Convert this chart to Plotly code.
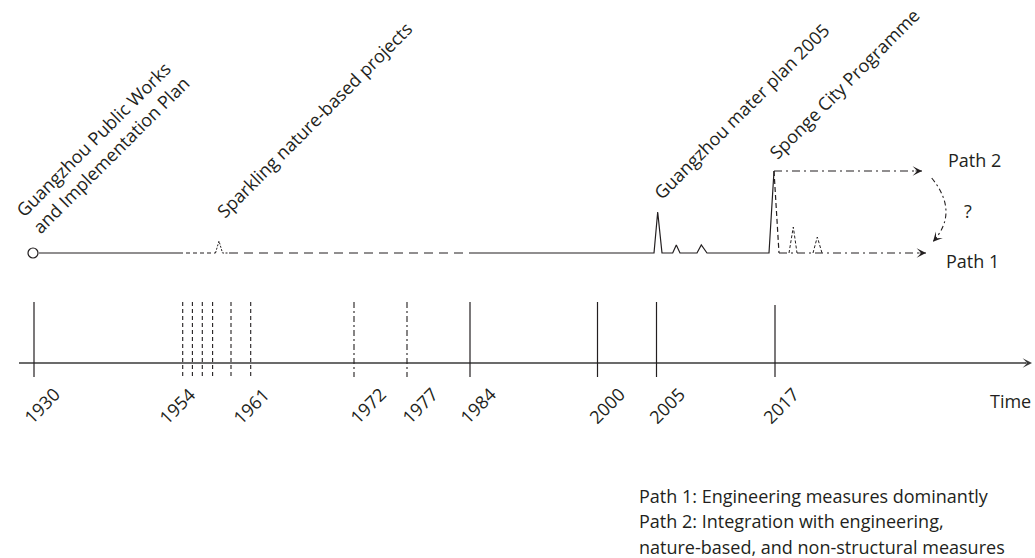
import plotly.graph_objects as go

INK = "#231f20"
AXIS = "#3a3a3a"
FONT = "Open Sans"
FS = 18

# ---------------- data ----------------
# Timeline (diagram position along the time axis for each marked year)
year_labels = ["1930", "1954", "1961", "1972", "1977", "1984", "2000", "2005", "2017"]
year_pos = [34, 182.7, 250.7, 354, 407, 470, 597.5, 656.5, 775]
year_kind = ["solid", "fine", "fine", "dash", "dash", "solid", "solid", "solid", "solid"]
minor_years = ["1955", "1956", "1957", "1959"]
minor_pos = [192.4, 202.3, 212.6, 231]

# Activity curve (level 0 = baseline, spikes = events)
early_x = [39, 179]
early_y = [0, 0]
spark_x = [179, 215.5]
spark_y = [0, 0]
spark_spike_x = [215.5, 219, 222.5, 229]
spark_spike_y = [0, 12, 0, 0]
gap_x = [229, 470]
gap_y = [0, 0]
modern_x = [470, 654, 657.7, 662, 672.7, 676.3, 680, 697, 701.3, 707, 769, 774]
modern_y = [0, 0, 41, 0, 0, 8, 0, 0, 8, 0, 0, 82]
path2_x = [774, 922]
path2_y = [82, 82]
path1_drop_x = [774, 779]
path1_drop_y = [82, 0]
path1_x = [779, 926]
path1_y = [0, 0]
path1_spike_a_x = [789, 793.3, 797]
path1_spike_a_y = [0, 26, 0]
path1_spike_b_x = [813, 817.3, 822]
path1_spike_b_y = [0, 16, 0]

event_texts = [
    "Guangzhou Public Works<br>and Implementation Plan",
    "Sparkling nature-based projects",
    "Guangzhou mater plan 2005",
    "Sponge City Programme",
]
legend_lines = [
    "Path 1: Engineering measures dominantly",
    "Path 2: Integration with engineering,",
    "nature-based, and non-structural measures",
]

# ---------------- figure ----------------
fig = go.Figure()


def seg(x, y, dash="solid", width=1.2, color=INK):
    fig.add_trace(go.Scatter(x=x, y=y, mode="lines",
                             line=dict(color=color, width=width, dash=dash),
                             hoverinfo="skip", showlegend=False))


def head(x, y, ux, uy, color=INK, size=1.3, back=7):
    # arrowhead at (x, y) pointing along unit vector (ux, uy)
    fig.add_annotation(x=x, y=y, ax=x - back * ux, ay=y - back * uy,
                       xref="x", yref="y", axref="x", ayref="y",
                       showarrow=True, arrowhead=3, arrowsize=size,
                       arrowwidth=1.2, arrowcolor=color, text="",
                       font=dict(size=1), borderpad=0, standoff=0)


# top activity line
seg(early_x, early_y)
seg(spark_x, spark_y, "4px,3px")
seg(spark_spike_x, spark_spike_y, "2px,1.5px", width=1)
seg(gap_x, gap_y, "9px,6px")
seg(modern_x, modern_y)
seg(path2_x, path2_y, "8px,4px,2px,4px")
seg(path1_drop_x, path1_drop_y, "5px,3px")
seg(path1_x, path1_y, "8px,4px,2px,4px")
seg(path1_spike_a_x, path1_spike_a_y, "3px,2px", width=1)
seg(path1_spike_b_x, path1_spike_b_y, "3px,2px", width=1)
head(path2_x[-1], path2_y[-1], 1, 0)
head(path1_x[-1], path1_y[-1], 1, 0)

# start circle
fig.add_trace(go.Scatter(x=[33], y=[0], mode="markers",
                         marker=dict(symbol="circle-open", size=10, color=INK,
                                     line=dict(color=INK, width=1.2)),
                         hoverinfo="skip", showlegend=False))

# curved switch arrow between paths
fig.add_shape(type="path", xref="x", yref="y",
              path="M 931.7,75 Q 959.6,40.8 933,11.3",
              line=dict(color=INK, width=1.1, dash="5px,3px,2px,3px"))
head(933, 11.3, -0.67, -0.74, back=6)

# time axis
AX_Y = -110
seg([19, 1026], [AX_Y, AX_Y], width=1.4, color=AXIS)
head(1032, AX_Y, 1, 0, color=AXIS)

dash_map = {"solid": "solid", "fine": "4px,3px", "dash": "6px,3px,2px,3px"}
for lab, pos, kind in zip(year_labels, year_pos, year_kind):
    top = -52 if lab == "2017" else -49
    seg([pos, pos], [top, -124], dash_map[kind], width=1.2 if kind == "solid" else 1.1)
for pos in minor_pos:
    seg([pos, pos], [-49, -124], dash_map["fine"], width=1.1)

nudges = [7, -6, 0, 13, 12, 7, 8.5, 9.5, 5]
for lab, pos, nd in zip(year_labels, year_pos, nudges):
    fig.add_annotation(x=pos + nd, y=-152.5, text=lab, textangle=-45,
                       showarrow=False, xanchor="center", yanchor="middle",
                       font=dict(family=FONT, size=FS, color=INK))

# event labels
event_centers = [(102, 107), (314, 133), (741.5, 142), (844, 169)]
for txt, (cx, cy) in zip(event_texts, event_centers):
    fig.add_annotation(x=cx, y=cy, text=txt, textangle=-45, showarrow=False,
                       xanchor="center", yanchor="middle", align="left",
                       font=dict(family=FONT, size=FS, color=INK))

# path labels
for txt, x, y in [("Path 2", 974, 93), ("Path 1", 972, -8), ("?", 968, 42), ("Time", 1010, -147.7)]:
    fig.add_annotation(x=x, y=y, text=txt, showarrow=False, xanchor="center",
                       yanchor="middle", font=dict(family=FONT, size=FS, color=INK))

# legend text
for i, line in enumerate(legend_lines):
    fig.add_annotation(x=637, y=-242.5 - 25.5 * i, text=line, showarrow=False,
                       xanchor="left", yanchor="middle",
                       font=dict(family=FONT, size=FS, color=INK))

fig.update_layout(
    width=1035, height=558,
    margin=dict(l=0, r=0, t=0, b=0),
    paper_bgcolor="white", plot_bgcolor="white",
    xaxis=dict(range=[0, 1035], visible=False, fixedrange=True),
    yaxis=dict(range=[-305, 253], visible=False, fixedrange=True),
    showlegend=False,
)

fig.write_html("out.html",
               config={"displayModeBar": False, "staticPlot": True},
               post_script="document.body.style.margin='0';document.body.style.overflow='hidden';")
